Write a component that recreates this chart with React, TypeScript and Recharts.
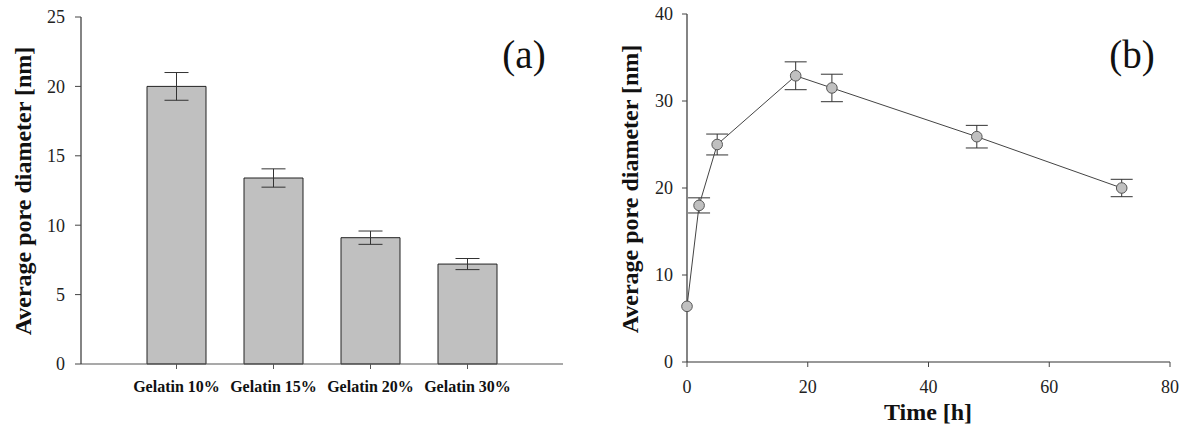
import React from "react";
import {
  BarChart,
  Bar,
  LineChart,
  Line,
  XAxis,
  YAxis,
  ErrorBar,
} from "recharts";

// (a) pore diameter by gelatin concentration
const categories = ["Gelatin 10%", "Gelatin 15%", "Gelatin 20%", "Gelatin 30%"];
const concDiameter = [20.0, 13.4, 9.1, 7.2];
const concError = [1.0, 0.66, 0.48, 0.4];
const concTicks = [0, 5, 10, 15, 20, 25];

// (b) pore diameter over time
const timeHours = [0, 2, 5, 18, 24, 48, 72];
const timeDiameter = [6.4, 18.0, 25.0, 32.9, 31.5, 25.9, 20.0];
const timeError = [0, 0.87, 1.2, 1.6, 1.58, 1.3, 1.0];
const timeXTicks = [0, 20, 40, 60, 80];
const timeYTicks = [0, 10, 20, 30, 40];

const concData = categories.map((name, i) => ({
  name,
  diameter: concDiameter[i],
  err: concError[i],
}));

const timeData = timeHours.map((time, i) => ({
  time,
  diameter: timeDiameter[i],
  err: timeError[i],
}));

const FONT = '"Liberation Serif", "Times New Roman", serif';
const tickStyle = { fontSize: 18, fill: "#222", fontFamily: FONT };

// Axis title drawn at a fixed spot (tx, ty), optionally rotated
const AxisTitle = (props: any) => {
  const { tx, ty, text, rotate } = props;
  return (
    <text
      x={tx}
      y={ty}
      transform={rotate ? `rotate(-90 ${tx} ${ty})` : undefined}
      textAnchor="middle"
      dominantBaseline="central"
      fontFamily={FONT}
      fontWeight="bold"
      fontSize={24}
      fill="#111"
    >
      {text}
    </text>
  );
};

const PanelTag: React.FC<{ left: number; text: string }> = ({ left, text }) => (
  <div
    style={{
      position: "absolute",
      left: left - 50,
      top: 35,
      width: 100,
      textAlign: "center",
      fontFamily: FONT,
      fontSize: 39,
      lineHeight: 1,
      color: "#111",
    }}
  >
    {text}
  </div>
);

const App: React.FC = () => {
  return (
    <div
      style={{
        position: "absolute",
        left: 0,
        top: 0,
        width: 1186,
        height: 428,
        background: "#fff",
      }}
    >
      <div style={{ position: "absolute", left: 0, top: 0 }}>
        <BarChart
          width={600}
          height={428}
          data={concData}
          margin={{ top: 17, right: 37, bottom: 0, left: 0 }}
        >
          <XAxis
            dataKey="name"
            height={64}
            padding={{ left: 47, right: 47 }}
            axisLine={{ stroke: "#555", strokeWidth: 1.2 }}
            tickLine={{ stroke: "#555" }}
            tickSize={5}
            tickMargin={12}
            tick={{ ...tickStyle, fontSize: 16, fontWeight: "bold", fill: "#111" }}
          />
          <XAxis
            xAxisId="top"
            dataKey="name"
            orientation="top"
            height={0}
            tick={false}
            tickLine={false}
            axisLine={{ stroke: "#777", strokeWidth: 1.5 }}
          />
          <YAxis
            type="number"
            domain={[0, 25]}
            ticks={concTicks}
            width={81}
            axisLine={{ stroke: "#333", strokeWidth: 1.2 }}
            tickLine={{ stroke: "#444" }}
            tickSize={6}
            tickMargin={10}
            tick={tickStyle}
            label={<AxisTitle tx={23} ty={191} rotate text="Average pore diameter [nm]" />}
          />
          <YAxis
            yAxisId="right"
            type="number"
            domain={[0, 25]}
            orientation="right"
            width={0}
            tick={false}
            tickLine={false}
            axisLine={{ stroke: "#777", strokeWidth: 1.5 }}
          />
          <Bar
            dataKey="diameter"
            barSize={59}
            fill="#c0c0c0"
            stroke="#222"
            strokeWidth={1}
            isAnimationActive={false}
          >
            <ErrorBar dataKey="err" width={12} stroke="#333" strokeWidth={1} />
          </Bar>
        </BarChart>
      </div>
      <PanelTag left={524} text="(a)" />

      <div style={{ position: "absolute", left: 600, top: 0 }}>
        <LineChart
          width={586}
          height={428}
          data={timeData}
          margin={{ top: 14, right: 16, bottom: 0, left: 0 }}
        >
          <XAxis
            dataKey="time"
            type="number"
            domain={[0, 80]}
            ticks={timeXTicks}
            height={66}
            axisLine={{ stroke: "#333", strokeWidth: 1.2 }}
            tickLine={{ stroke: "#444" }}
            tickSize={5}
            tickMargin={13}
            tick={tickStyle}
            label={<AxisTitle tx={328} ty={412} text="Time [h]" />}
          />
          <XAxis
            xAxisId="top"
            dataKey="time"
            type="number"
            domain={[0, 80]}
            orientation="top"
            height={0}
            tick={false}
            tickLine={false}
            axisLine={{ stroke: "#777", strokeWidth: 1.5 }}
          />
          <YAxis
            type="number"
            domain={[0, 40]}
            ticks={timeYTicks}
            width={87}
            axisLine={{ stroke: "#333", strokeWidth: 1.2 }}
            tickLine={{ stroke: "#444" }}
            tickSize={5}
            tickMargin={9}
            tick={tickStyle}
            label={<AxisTitle tx={30} ty={189} rotate text="Average pore diameter [nm]" />}
          />
          <YAxis
            yAxisId="right"
            type="number"
            domain={[0, 40]}
            orientation="right"
            width={0}
            tick={false}
            tickLine={false}
            axisLine={{ stroke: "#777", strokeWidth: 1.5 }}
          />
          <Line
            dataKey="diameter"
            stroke="#444"
            strokeWidth={1}
            dot={{ r: 5.3, fill: "#c0c0c0", stroke: "#555", strokeWidth: 1 }}
            isAnimationActive={false}
          >
            <ErrorBar dataKey="err" width={11} stroke="#333" strokeWidth={1} />
          </Line>
        </LineChart>
      </div>
      <PanelTag left={1132} text="(b)" />
    </div>
  );
};

export default App;
